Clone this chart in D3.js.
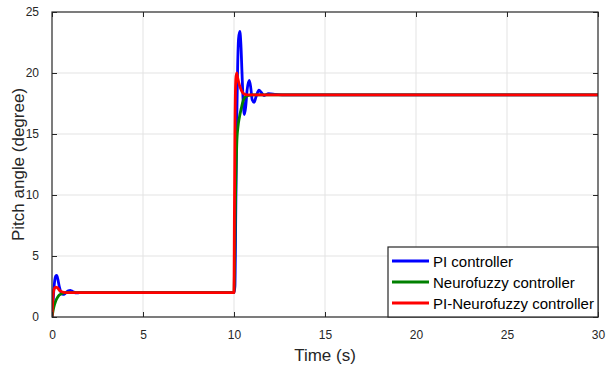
<!DOCTYPE html>
<html>
<head>
<meta charset="utf-8">
<script src="https://cdn.jsdelivr.net/npm/d3@7"></script>
<style>
  body { margin: 0; background: #fff; }
  svg { display: block; font-family: "Liberation Sans", Arial, sans-serif; }
</style>
</head>
<body>
<svg id="chart" width="609" height="371"></svg>
<script>
// series: time (s) and pitch angle (degree)
const piTime = [0, 0.05, 0.1, 0.15, 0.2, 0.26, 0.32, 0.4, 0.5, 0.6, 0.7, 0.8, 0.9, 1.0, 1.1, 1.2, 1.35, 1.5, 1.8, 10,
  10.05, 10.1, 10.15, 10.2, 10.25, 10.32, 10.38, 10.44, 10.5, 10.57, 10.64, 10.72, 10.84, 10.92, 11.0, 11.1, 11.22, 11.37, 11.5, 11.65, 11.9, 12.3, 12.8, 30];
const piValue = [0, 1.0, 2.2, 3.0, 3.35, 3.4, 3.1, 2.5, 2.0, 1.85, 1.9, 2.05, 2.15, 2.18, 2.12, 2.04, 1.98, 1.99, 2.0, 2.0,
  2.5, 9, 16, 20.5, 22.8, 23.4, 22.3, 20, 17.8, 16.6, 17.2, 18.6, 19.4, 18.8, 17.8, 17.6, 18.1, 18.6, 18.4, 18.15, 18.3, 18.25, 18.2, 18.2];

const nfTime = [0, 0.1, 0.2, 0.3, 0.4, 0.5, 0.65, 0.8, 10, 10.03, 10.07, 10.1, 10.16, 10.22, 10.3, 10.4, 10.5, 10.6, 10.75, 11, 30];
const nfValue = [0, 0.8, 1.3, 1.6, 1.8, 1.9, 1.97, 2.0, 2.0, 4, 8.5, 11, 14.5, 15.6, 16.4, 17.1, 17.7, 18.0, 18.15, 18.2, 18.2];

const pinfTime = [0, 0.05, 0.1, 0.2, 0.3, 0.4, 0.5, 0.65, 0.8, 10, 10.02, 10.05, 10.1, 10.15, 10.2, 10.3, 10.4, 10.5, 10.6, 10.8, 30];
const pinfValue = [0, 1.5, 2.2, 2.45, 2.4, 2.2, 2.1, 2.02, 2.0, 2.0, 8, 15, 19.5, 20.0, 19.6, 19.0, 18.6, 18.35, 18.25, 18.2, 18.2];

const seriesNames = ['PI controller', 'Neurofuzzy controller', 'PI-Neurofuzzy controller'];
const seriesColors = ['#0000ff', '#008000', '#ff0000'];
const xTicks = [0, 5, 10, 15, 20, 25, 30];
const yTicks = [0, 5, 10, 15, 20, 25];

const series = [
  { name: seriesNames[0], color: seriesColors[0], pts: piTime.map((t, i) => [t, piValue[i]]) },
  { name: seriesNames[1], color: seriesColors[1], pts: nfTime.map((t, i) => [t, nfValue[i]]) },
  { name: seriesNames[2], color: seriesColors[2], pts: pinfTime.map((t, i) => [t, pinfValue[i]]) }
];

const margin = { left: 52, top: 12, right: 11, bottom: 54 };
const width = 609 - margin.left - margin.right;
const height = 371 - margin.top - margin.bottom;

const svg = d3.select('#chart');
const g = svg.append('g').attr('transform', 'translate(' + margin.left + ',' + margin.top + ')');

const x = d3.scaleLinear().domain([0, 30]).range([0, width]);
const y = d3.scaleLinear().domain([0, 25]).range([height, 0]);

// grid
g.append('g').selectAll('line').data(xTicks.slice(1, -1)).enter().append('line')
  .attr('x1', d => x(d)).attr('x2', d => x(d)).attr('y1', 0).attr('y2', height)
  .attr('stroke', '#e3e3e3').attr('stroke-width', 1);
g.append('g').selectAll('line').data(yTicks.slice(1, -1)).enter().append('line')
  .attr('y1', d => y(d)).attr('y2', d => y(d)).attr('x1', 0).attr('x2', width)
  .attr('stroke', '#e3e3e3').attr('stroke-width', 1);

// lines
g.append('clipPath').attr('id', 'clip').append('rect')
  .attr('width', width).attr('height', height);
const line = d3.line().x(d => x(d[0])).y(d => y(d[1])).curve(d3.curveMonotoneX);
g.append('g').attr('clip-path', 'url(#clip)').selectAll('path').data(series).enter().append('path')
  .attr('d', d => line(d.pts))
  .attr('fill', 'none')
  .attr('stroke', d => d.color)
  .attr('stroke-width', 2.8)
  .attr('stroke-linejoin', 'round');

// axes (ticks inside, box)
const tickColor = '#262626';
function styleAxis(sel) {
  sel.select('.domain').remove();
  sel.selectAll('line').attr('stroke', tickColor);
  sel.selectAll('text').attr('fill', tickColor).style('font-size', '12px');
}
g.append('g').attr('transform', 'translate(0,' + height + ')')
  .call(d3.axisBottom(x).tickValues(xTicks).tickSize(-5).tickPadding(13).tickFormat(d3.format('d')))
  .call(styleAxis);
g.append('g')
  .call(d3.axisTop(x).tickValues(xTicks).tickSize(-5).tickFormat(''))
  .call(styleAxis);
g.append('g')
  .call(d3.axisLeft(y).tickValues(yTicks).tickSize(-5).tickPadding(13).tickFormat(d3.format('d')))
  .call(styleAxis);
g.append('g').attr('transform', 'translate(' + width + ',0)')
  .call(d3.axisRight(y).tickValues(yTicks).tickSize(-5).tickFormat(''))
  .call(styleAxis);
g.append('rect').attr('width', width).attr('height', height)
  .attr('fill', 'none').attr('stroke', tickColor).attr('stroke-width', 1.2);

// axis labels
svg.append('text').attr('x', margin.left + width / 2).attr('y', 361)
  .attr('text-anchor', 'middle').attr('fill', tickColor).style('font-size', '17px')
  .text('Time (s)');
svg.append('text').attr('transform', 'translate(24,' + (margin.top + height / 2) + ') rotate(-90)')
  .attr('text-anchor', 'middle').attr('fill', tickColor).style('font-size', '17px')
  .text('Pitch angle (degree)');

// legend
const legW = 210, legH = 70;
const leg = g.append('g').attr('transform', 'translate(' + (width - legW) + ',' + (height - legH) + ')');
leg.append('rect').attr('width', legW).attr('height', legH)
  .attr('fill', '#fff').attr('stroke', tickColor).attr('stroke-width', 1.2);
const items = leg.selectAll('g.item').data(series).enter().append('g')
  .attr('transform', (d, i) => 'translate(0,' + (14 + i * 21) + ')');
items.append('line').attr('x1', 4).attr('x2', 41).attr('y1', 0).attr('y2', 0)
  .attr('stroke', d => d.color).attr('stroke-width', 2.8);
items.append('text').attr('x', 45).attr('y', 5.5).attr('fill', '#000')
  .style('font-size', '15px').text(d => d.name);
</script>
</body>
</html>
